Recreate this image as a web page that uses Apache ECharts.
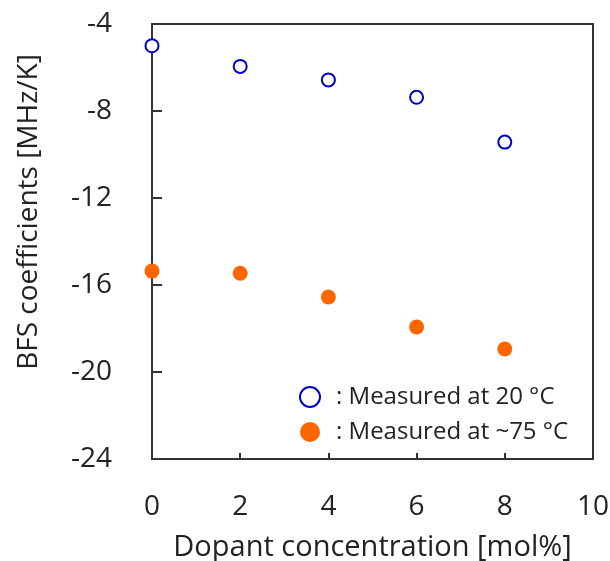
<!DOCTYPE html>
<html><head><meta charset="utf-8">
<script src="https://cdn.jsdelivr.net/npm/echarts@6/dist/echarts.min.js"></script>
<style>html,body{margin:0;padding:0;background:#fff}#c{width:610px;height:561px}</style>
</head><body><div id="c"></div>
<script>
const dopant = [0, 2, 4, 6, 8];
const measured20 = [-5.0, -5.95, -6.57, -7.37, -9.43];
const measured75 = [-15.36, -15.46, -16.55, -17.93, -18.94];
const name20 = ': Measured at 20 °C';
const name75 = ': Measured at ~75 °C';
const xName = 'Dopant concentration [mol%]';
const yName = 'BFS coefficients [MHz/K]';

const font = '"Open Sans", "Noto Sans", sans-serif';
const txt = '#222';
const chart = echarts.init(document.getElementById('c'));
chart.setOption({
  animation: false,
  textStyle: {fontFamily: font},
  grid: {left: 152, right: 17, top: 24, bottom: 102, outerBoundsMode: 'none', containLabel: false,
         show: true, borderColor: '#333', borderWidth: 2, backgroundColor: 'transparent'},
  legend: {
    orient: 'vertical', left: 299, top: 385, itemGap: 11, itemWidth: 20, itemHeight: 20,
    padding: 0,
    textStyle: {fontSize: 24, lineHeight: 20, color: txt, fontFamily: font, padding: [0, 0, 0, 11]},
    data: [{name: name20, icon: 'emptyCircle', itemStyle: {borderWidth: 3}}, {name: name75, icon: 'circle'}]
  },
  graphic: [{
    type: 'text', x: 29, y: 212, rotation: Math.PI / 2,
    style: {text: yName, fontSize: 28, fontFamily: font, fill: txt, align: 'center', verticalAlign: 'middle'}
  }],
  xAxis: {
    type: 'value', min: 0, max: 10, interval: 2,
    name: xName, nameLocation: 'middle', nameGap: 74,
    nameTextStyle: {fontSize: 29, color: txt, fontFamily: font},
    axisLine: {show: true, lineStyle: {color: '#333', width: 2}},
    axisTick: {show: true, inside: true, length: 6, lineStyle: {color: '#333', width: 2}},
    axisLabel: {fontSize: 28, color: txt, margin: 34, fontFamily: font},
    splitLine: {show: false}
  },
  yAxis: {
    type: 'value', min: -24, max: -4, interval: 4,
    axisLine: {show: true, lineStyle: {color: '#333', width: 2}},
    axisTick: {show: true, inside: true, length: 10, lineStyle: {color: '#333', width: 2}},
    axisLabel: {fontSize: 28, color: txt, margin: 40, fontFamily: font},
    splitLine: {show: false}
  },
  series: [
    {name: name20, type: 'scatter', symbol: 'emptyCircle', symbolSize: 13,
     itemStyle: {color: '#0000cc', borderColor: '#0000cc', borderWidth: 3, opacity: 1},
     data: dopant.map((x, i) => [x, measured20[i]]), z: 5},
    {name: name75, type: 'scatter', symbol: 'circle', symbolSize: 15,
     itemStyle: {color: '#ff6600', opacity: 1},
     data: dopant.map((x, i) => [x, measured75[i]]), z: 5}
  ]
});
</script></body></html>
